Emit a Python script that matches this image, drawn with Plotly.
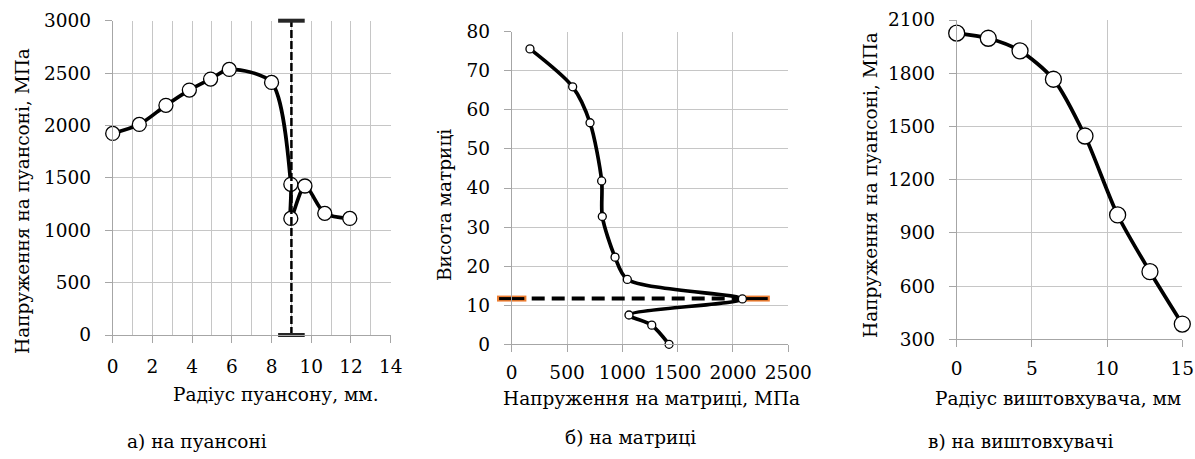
import plotly.graph_objects as go

# ---- data ----
# panel a: stress on punch vs punch radius
a_radius = [0, 1.34, 2.68, 3.86, 4.93, 5.87, 8.0, 8.97, 8.97, 9.68, 10.68, 11.94]
a_stress = [1924, 2010, 2192, 2338, 2443, 2535, 2411, 1438, 1113, 1422, 1161, 1113]
a_ref_x = [9, 9]
a_ref_y = [0, 3000]

# panel b: die height vs stress on die
b_stress = [165, 551, 708, 813, 819, 934, 1045, 2085, 1060, 1266, 1422]
b_height = [75.6, 65.9, 56.7, 41.8, 32.7, 22.3, 16.6, 11.6, 7.5, 4.9, 0]
b_ref_x = [0, 2200]
b_ref_y = [11.7, 11.7]

# panel c: stress vs ejector radius
c_radius = [0, 2.1, 4.21, 6.43, 8.53, 10.7, 12.85, 15]
c_stress = [2026, 1997, 1926, 1766, 1446, 1001, 681, 386]

texts = {
    "a_y": "Напруження на пуансоні, МПа",
    "a_x": "Радіус пуансону, мм.",
    "a_cap": "а) на пуансоні",
    "b_y": "Висота матриці",
    "b_x": "Напруження на матриці, МПа",
    "b_cap": "б) на матриці",
    "c_y": "Напруження на пуансоні, МПа",
    "c_x": "Радіус виштовхувача, мм",
    "c_cap": "в) на виштовхувачі",
}

W, H = 1195, 459
FONT = "DejaVu Serif"
FS = 18.5
GRID = "#C6C6C6"
AXL = "#A6A6A6"


def px(x):
    return x / W


def py(y):
    return 1 - y / H


fig = go.Figure()

# panel a
fig.add_trace(go.Scatter(
    x=a_radius, y=a_stress, mode="lines+markers", xaxis="x", yaxis="y",
    line=dict(color="black", width=3.7, shape="spline", smoothing=0.8),
    marker=dict(size=14, color="white", line=dict(color="black", width=1.3)),
    cliponaxis=False, showlegend=False))
fig.add_trace(go.Scatter(
    x=a_ref_x, y=a_ref_y, mode="lines+markers", xaxis="x", yaxis="y",
    line=dict(color="black", width=2.5, dash="8px,3px"),
    marker=dict(symbol="line-ew", size=19, line=dict(color="#262626", width=4)),
    cliponaxis=False, showlegend=False))

# panel b
fig.add_trace(go.Scatter(
    x=b_ref_x, y=b_ref_y, mode="lines", xaxis="x2", yaxis="y2",
    line=dict(color="black", width=4, dash="13px,7px"),
    cliponaxis=False, showlegend=False))
fig.add_trace(go.Scatter(
    x=b_ref_x, y=b_ref_y, mode="markers", xaxis="x2", yaxis="y2",
    marker=dict(symbol="line-ew", size=21, line=dict(color="#ED7D31", width=6)),
    cliponaxis=False, showlegend=False))
fig.add_trace(go.Scatter(
    x=b_ref_x, y=b_ref_y, mode="markers", xaxis="x2", yaxis="y2",
    marker=dict(symbol="line-ew", size=18, line=dict(color="black", width=3)),
    cliponaxis=False, showlegend=False))
fig.add_trace(go.Scatter(
    x=b_stress, y=b_height, mode="lines+markers", xaxis="x2", yaxis="y2",
    line=dict(color="black", width=3.7, shape="spline", smoothing=0.8),
    marker=dict(size=8, color="white", line=dict(color="black", width=1.3)),
    cliponaxis=False, showlegend=False))

# panel c
fig.add_trace(go.Scatter(
    x=c_radius, y=c_stress, mode="lines+markers", xaxis="x3", yaxis="y3",
    line=dict(color="black", width=3.7, shape="spline", smoothing=0.8),
    marker=dict(size=16, color="white", line=dict(color="black", width=1.3)),
    cliponaxis=False, showlegend=False))

axis_common = dict(
    showgrid=True, gridcolor=GRID, gridwidth=1,
    showline=True, linecolor=AXL, linewidth=1,
    ticks="outside", ticklen=7, tickcolor=AXL, tickwidth=1,
    zeroline=False, tickfont=dict(family=FONT, size=FS, color="black"),
    fixedrange=True, automargin=False,
)

fig.update_layout(
    width=W, height=H,
    margin=dict(l=0, r=0, t=0, b=0, pad=0),
    paper_bgcolor="white", plot_bgcolor="white",
    font=dict(family=FONT, size=FS, color="black"),
    xaxis=dict(domain=[px(112.7), px(390.7)], range=[0, 14], dtick=2, tick0=0,
               anchor="y", ticklabelstandoff=8,
               minor=dict(dtick=1, showgrid=True, gridcolor=GRID, ticklen=0),
               **axis_common),
    yaxis=dict(domain=[py(335), py(20.7)], range=[0, 3000], dtick=500,
               anchor="x", ticklabelstandoff=10, **axis_common),
    xaxis2=dict(domain=[px(511.7), px(788.3)], range=[0, 2500], dtick=500,
                anchor="y2", ticklabelstandoff=4, **axis_common),
    yaxis2=dict(domain=[py(344.3), py(31.7)], range=[0, 80], dtick=10,
                anchor="x2", ticklabelstandoff=10, **axis_common),
    xaxis3=dict(domain=[px(956.7), px(1182.3)], range=[0, 15], dtick=5,
                anchor="y3", ticklabelstandoff=5, **axis_common),
    yaxis3=dict(domain=[py(339.3), py(20)], range=[300, 2100], dtick=300,
                anchor="x3", ticklabelstandoff=10, **axis_common),
)


def ann(text, x, y, angle=0):
    fig.add_annotation(text=text, x=px(x), y=py(y), xref="paper", yref="paper",
                       showarrow=False, textangle=angle, xanchor="center",
                       yanchor="middle", font=dict(family=FONT, size=FS, color="black"))


ann(texts["a_y"], 22, 201, -90)
ann(texts["a_x"], 276, 394)
ann(texts["a_cap"], 197, 441)
ann(texts["b_y"], 444, 205, -90)
ann(texts["b_x"], 651, 398)
ann(texts["b_cap"], 630, 437)
ann(texts["c_y"], 870, 185, -90)
ann(texts["c_x"], 1058, 398)
ann(texts["c_cap"], 1020, 441)

fig.write_html(
    "out.html",
    config={"displayModeBar": False},
    post_script="document.body.style.margin='0';document.body.style.overflow='hidden';",
)
